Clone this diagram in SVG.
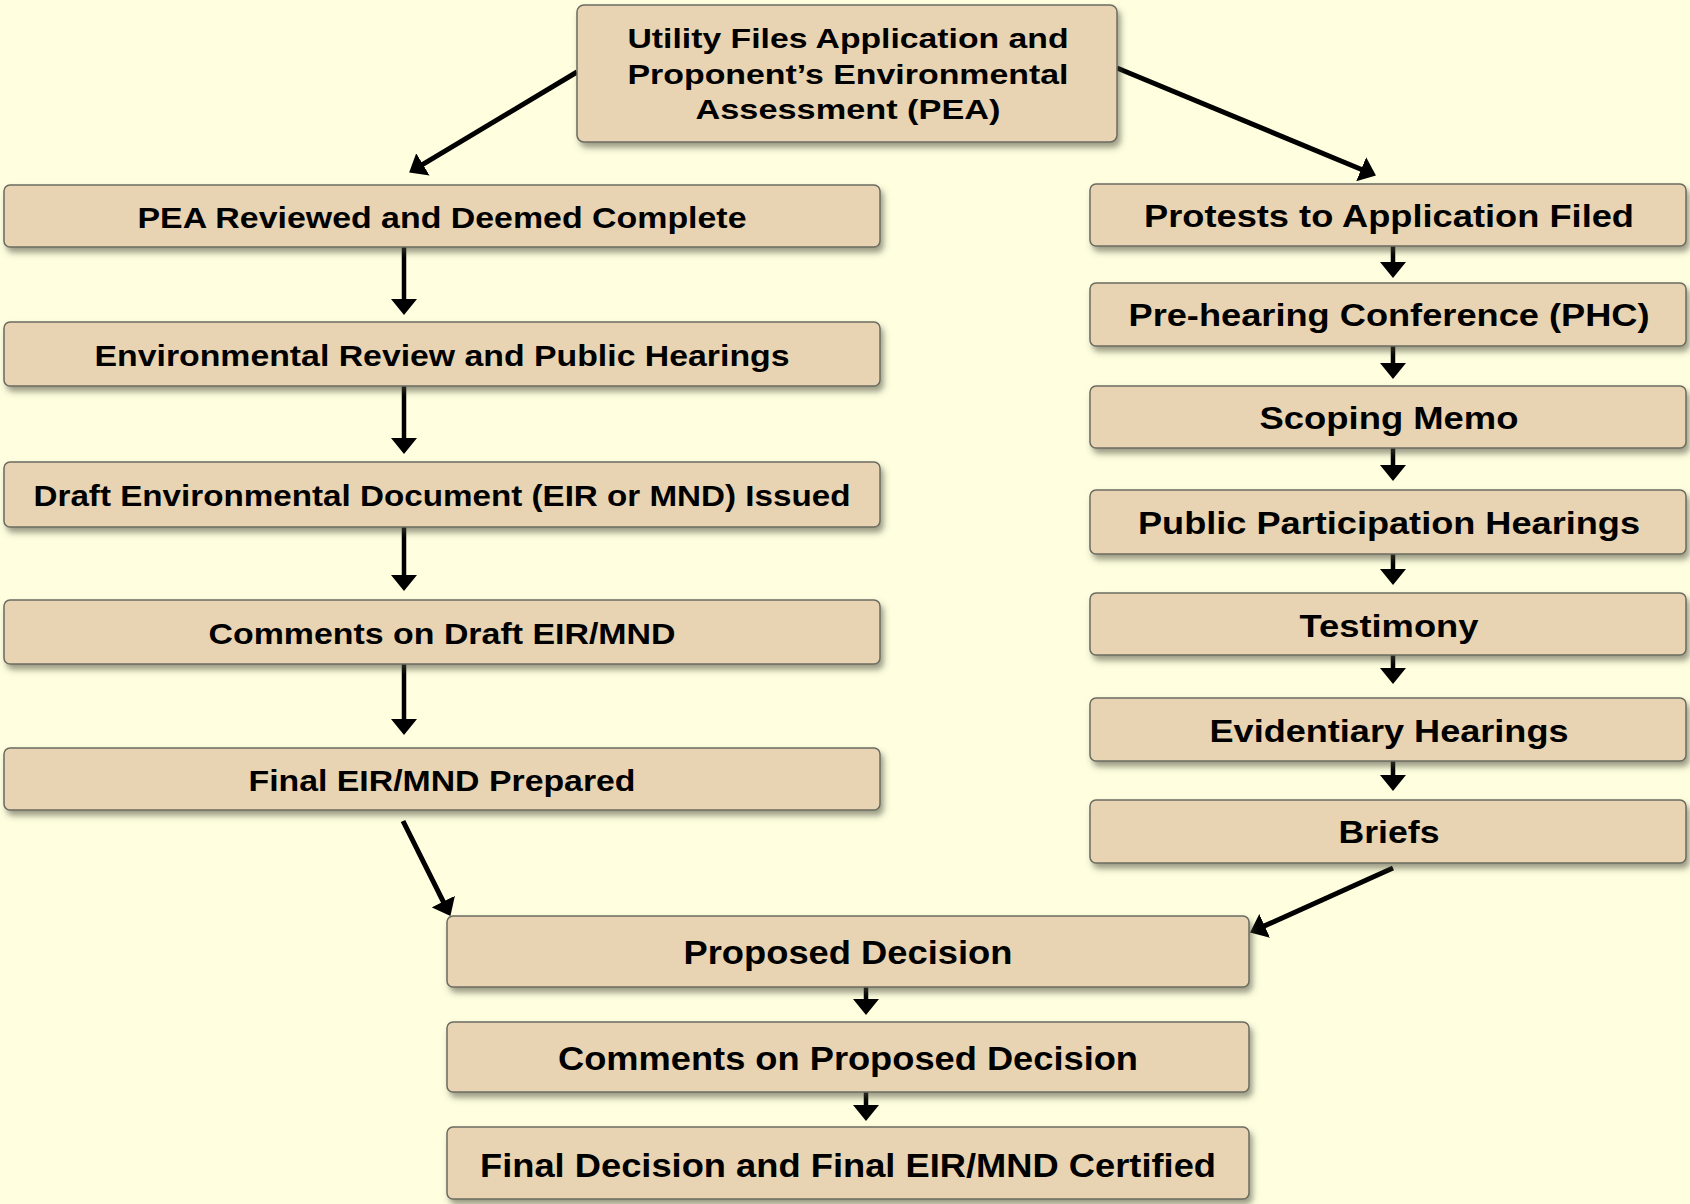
<svg xmlns="http://www.w3.org/2000/svg" width="1690" height="1204" viewBox="0 0 1690 1204">
<defs>
<filter id="sh" x="-5%" y="-20%" width="112%" height="150%">
<feDropShadow dx="3" dy="5" stdDeviation="3" flood-color="#4a4a3a" flood-opacity="0.55"/>
</filter>
<marker id="ah" viewBox="0 0 16 26" refX="5" refY="13" markerWidth="16" markerHeight="26" markerUnits="userSpaceOnUse" orient="auto">
<path d="M0,0 L16,13 L0,26 Z" fill="#000"/>
</marker>
</defs>
<style>
.box{fill:#E8D4B2;stroke:#6b6b60;stroke-width:1.5;filter:url(#sh)}
.t{font-family:"Liberation Sans",Arial,sans-serif;font-weight:bold;fill:#000;text-anchor:middle}
.tl{font-size:30px}
.tr{font-size:31px}
.tb{font-size:33px}
.tt{font-size:28px}
.c{stroke:#000;stroke-width:4.5;fill:none;marker-end:url(#ah)}
.d{stroke-width:5}
</style>
<rect width="1690" height="1204" fill="#FFFFE0"/>

<g id="connectors">
<line class="c d" x1="577" y1="72" x2="418.6" y2="166.9"/>
<line class="c d" x1="1117" y1="68" x2="1365.8" y2="171.2"/>
<line class="c" x1="404" y1="247" x2="404" y2="304"/>
<line class="c" x1="404" y1="386" x2="404" y2="443"/>
<line class="c" x1="404" y1="527" x2="404" y2="580"/>
<line class="c" x1="404" y1="664" x2="404" y2="724"/>
<line class="c d" x1="403" y1="821" x2="445.5" y2="906.1"/>
<line class="c" x1="1393" y1="246" x2="1393" y2="267"/>
<line class="c" x1="1393" y1="346" x2="1393" y2="368"/>
<line class="c" x1="1393" y1="448" x2="1393" y2="470"/>
<line class="c" x1="1393" y1="554" x2="1393" y2="574"/>
<line class="c" x1="1393" y1="655" x2="1393" y2="673"/>
<line class="c" x1="1393" y1="761" x2="1393" y2="780"/>
<line class="c d" x1="1393" y1="868" x2="1260.1" y2="927.9"/>
<line class="c" x1="866" y1="987" x2="866" y2="1004"/>
<line class="c" x1="866" y1="1092" x2="866" y2="1110"/>
</g>

<g id="n-top">
<rect class="box" x="577" y="5" width="540" height="137" rx="7"/>
<text class="t tt" x="848" y="48" textLength="441" lengthAdjust="spacingAndGlyphs">Utility Files Application and</text>
<text class="t tt" x="848" y="83.5" textLength="441" lengthAdjust="spacingAndGlyphs">Proponent’s Environmental</text>
<text class="t tt" x="848" y="119" textLength="305" lengthAdjust="spacingAndGlyphs">Assessment (PEA)</text>
</g>

<g id="n-pea">
<rect class="box" x="4" y="185" width="876" height="62" rx="6"/>
<text class="t tl" x="442" y="227.5" textLength="609" lengthAdjust="spacingAndGlyphs">PEA Reviewed and Deemed Complete</text>
</g>
<g id="n-env">
<rect class="box" x="4" y="322" width="876" height="64" rx="6"/>
<text class="t tl" x="442" y="365.5" textLength="695" lengthAdjust="spacingAndGlyphs">Environmental Review and Public Hearings</text>
</g>
<g id="n-draft">
<rect class="box" x="4" y="462" width="876" height="65" rx="6"/>
<text class="t tl" x="442" y="506" textLength="817" lengthAdjust="spacingAndGlyphs">Draft Environmental Document (EIR or MND) Issued</text>
</g>
<g id="n-comments-draft">
<rect class="box" x="4" y="600" width="876" height="64" rx="6"/>
<text class="t tl" x="442" y="643.5" textLength="467" lengthAdjust="spacingAndGlyphs">Comments on Draft EIR/MND</text>
</g>
<g id="n-final-eir">
<rect class="box" x="4" y="748" width="876" height="62" rx="6"/>
<text class="t tl" x="442" y="790.5" textLength="387" lengthAdjust="spacingAndGlyphs">Final EIR/MND Prepared</text>
</g>

<g id="n-protests">
<rect class="box" x="1090" y="184" width="596" height="62" rx="6"/>
<text class="t tr" x="1389" y="226.5" textLength="490" lengthAdjust="spacingAndGlyphs">Protests to Application Filed</text>
</g>
<g id="n-phc">
<rect class="box" x="1090" y="283" width="596" height="63" rx="6"/>
<text class="t tr" x="1389" y="326" textLength="521" lengthAdjust="spacingAndGlyphs">Pre-hearing Conference (PHC)</text>
</g>
<g id="n-scoping">
<rect class="box" x="1090" y="386" width="596" height="62" rx="6"/>
<text class="t tr" x="1389" y="428.5" textLength="259" lengthAdjust="spacingAndGlyphs">Scoping Memo</text>
</g>
<g id="n-ppH">
<rect class="box" x="1090" y="490" width="596" height="64" rx="6"/>
<text class="t tr" x="1389" y="533.5" textLength="502" lengthAdjust="spacingAndGlyphs">Public Participation Hearings</text>
</g>
<g id="n-testimony">
<rect class="box" x="1090" y="593" width="596" height="62" rx="6"/>
<text class="t tr" x="1389" y="636.5" textLength="179" lengthAdjust="spacingAndGlyphs">Testimony</text>
</g>
<g id="n-evid">
<rect class="box" x="1090" y="698" width="596" height="63" rx="6"/>
<text class="t tr" x="1389" y="741.5" textLength="359" lengthAdjust="spacingAndGlyphs">Evidentiary Hearings</text>
</g>
<g id="n-briefs">
<rect class="box" x="1090" y="800" width="596" height="63" rx="6"/>
<text class="t tr" x="1389" y="843" textLength="101" lengthAdjust="spacingAndGlyphs">Briefs</text>
</g>

<g id="n-pd">
<rect class="box" x="447" y="916" width="802" height="71" rx="6"/>
<text class="t tb" x="848" y="964" textLength="329" lengthAdjust="spacingAndGlyphs">Proposed Decision</text>
</g>
<g id="n-cpd">
<rect class="box" x="447" y="1022" width="802" height="70" rx="6"/>
<text class="t tb" x="848" y="1070" textLength="580" lengthAdjust="spacingAndGlyphs">Comments on Proposed Decision</text>
</g>
<g id="n-final">
<rect class="box" x="447" y="1127" width="802" height="72" rx="6"/>
<text class="t tb" x="848" y="1176.5" textLength="736" lengthAdjust="spacingAndGlyphs">Final Decision and Final EIR/MND Certified</text>
</g>
</svg>
